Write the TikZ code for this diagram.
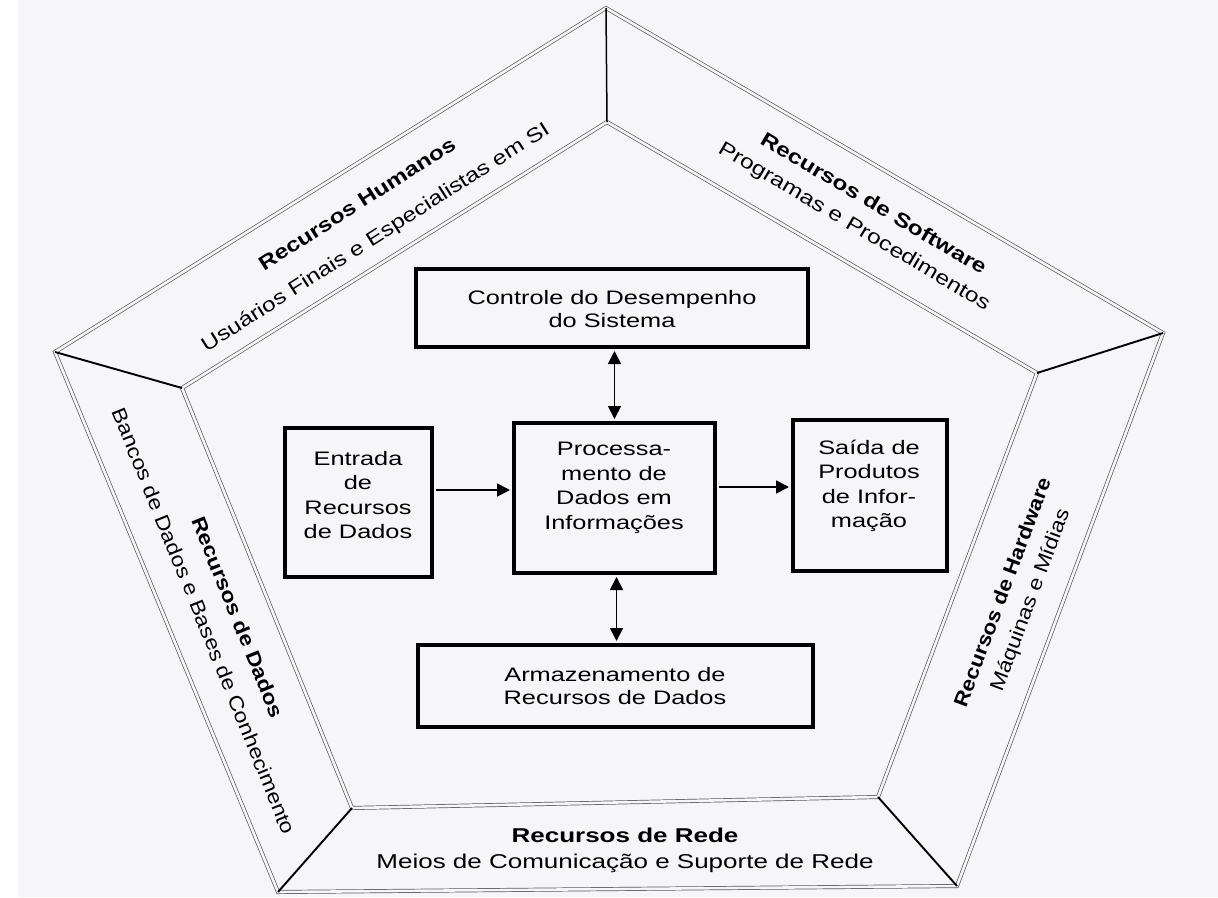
\documentclass[tikz,border=0pt]{standalone}
\usepackage{fontspec}
\setmainfont{Liberation Sans}
\newfontfamily\widefont[FakeStretch=1.3]{Liberation Sans}
\usetikzlibrary{arrows.meta}
\definecolor{paper}{RGB}{246,246,249}
\begin{document}
\begin{tikzpicture}[x=1pt,y=-1pt,
  >={Triangle[length=13pt,width=13pt]},
  frame/.style={draw=black!65, line width=0.7pt, double=paper, double distance=2.6pt, line join=miter},
  divider/.style={draw=black, line width=1.9pt},
  box/.style={draw=black, line width=4.5pt, fill=paper, inner sep=0pt, outer sep=0pt},
  btxt/.style={font=\widefont\fontsize{19.5}{24.5}\selectfont, align=center, inner sep=0pt},
  btxtb/.style={font=\widefont\fontsize{19.5}{22.5}\selectfont, align=center, inner sep=0pt},
  bandb/.style={font=\fontsize{20}{22}\selectfont\bfseries, inner sep=0pt},
  bandr/.style={font=\fontsize{20}{22}\selectfont, inner sep=0pt},
  conn/.style={line width=1.8pt, shorten <=4pt, shorten >=4pt}
]
\useasboundingbox (0,0) rectangle (1218,897);
\fill[paper] (0,0) rectangle (1218,897);
\fill[white] (0,0) rectangle (18,897);

% pentagon frame
\coordinate (oT) at (606,8);
\coordinate (oR) at (1163,333);
\coordinate (oBR) at (957,886);
\coordinate (oBL) at (278,892);
\coordinate (oL) at (55,352);
\coordinate (iT) at (607,122);
\coordinate (iR) at (1037,373);
\coordinate (iBR) at (878,797);
\coordinate (iBL) at (352,808);
\coordinate (iL) at (182,388);

\draw[frame] (oT) -- (oR) -- (oBR) -- (oBL) -- (oL) -- cycle;
\draw[frame] (iT) -- (iR) -- (iBR) -- (iBL) -- (iL) -- cycle;
\draw[divider, line width=1.5pt] (oT) -- (iT);
\draw[divider] (oR) -- (iR);
\draw[divider] (oBR) -- (iBR);
\draw[divider] (oBL) -- (iBL);
\draw[divider] (oL) -- (iL);

% band texts
\path (357,204) node[bandb, rotate=32.5, xscale=1.22] (hum1) {Recursos Humanos};
\path (376,238) node[bandr, rotate=32.5, xscale=1.22] (hum2) {Usuários Finais e Especialistas em SI};
\path (874,203) node[bandb, rotate=-30.6, xscale=1.23] (sw1) {Recursos de Software};
\path (854,227) node[bandr, rotate=-30.6, xscale=1.23] (sw2) {Programas e Procedimentos};
\path (238,617) node[bandb, rotate=-68, xscale=1.15] (dd1) {Recursos de Dados};
\path (204,621) node[bandr, rotate=-68, xscale=1.15] (dd2) {Bancos de Dados e Bases de Conhecimento};
\path (1002,592) node[bandb, rotate=69.5, xscale=1.12] (hw1) {Recursos de Hardware};
\path (1031,600) node[bandr, rotate=69.5, xscale=1.15] (hw2) {Máquinas e Mídias};
\path (625,835) node[bandb, xscale=1.3] (rd1) {Recursos de Rede};
\path (625,863) node[bandr, xscale=1.3] (rd2) {Meios de Comunicação e Suporte de Rede};

% boxes
\node[box, minimum width=392pt, minimum height=78pt] (ctrl) at (612,308) {};
\node[box, minimum width=147pt, minimum height=149pt] (ent) at (358.5,502.5) {};
\node[box, minimum width=201pt, minimum height=150pt] (proc) at (614.5,498) {};
\node[box, minimum width=154pt, minimum height=151pt] (sai) at (870,495.5) {};
\node[box, minimum width=395pt, minimum height=82pt] (arm) at (615.5,686) {};

\node[btxtb] (ctrlt) at (612,309) {Controle do Desempenho\\do Sistema};
\node[btxt] (entt) at (358,495) {Entrada\\de\\Recursos\\de Dados};
\node[btxt] (proct) at (614,488) {Processa-\\mento de\\Dados em\\Informações};
\node[btxt] (sait) at (869,486) {Saída de\\Produtos\\de Infor-\\mação};
\node[btxtb] (armt) at (615,686) {Armazenamento de\\Recursos de Dados};

% connectors
\coordinate (yA) at (0,490);
\coordinate (yB) at (0,487);
\draw[conn, <->] (proc.north) -- (proc.north |- ctrl.south);
\draw[conn, <->] ([xshift=2pt]proc.south) -- ([xshift=2pt]proc.south |- arm.north);
\draw[conn, ->] (ent.east |- yA) -- (proc.west |- yA);
\draw[conn, ->] (proc.east |- yB) -- (sai.west |- yB);
\end{tikzpicture}
\end{document}
